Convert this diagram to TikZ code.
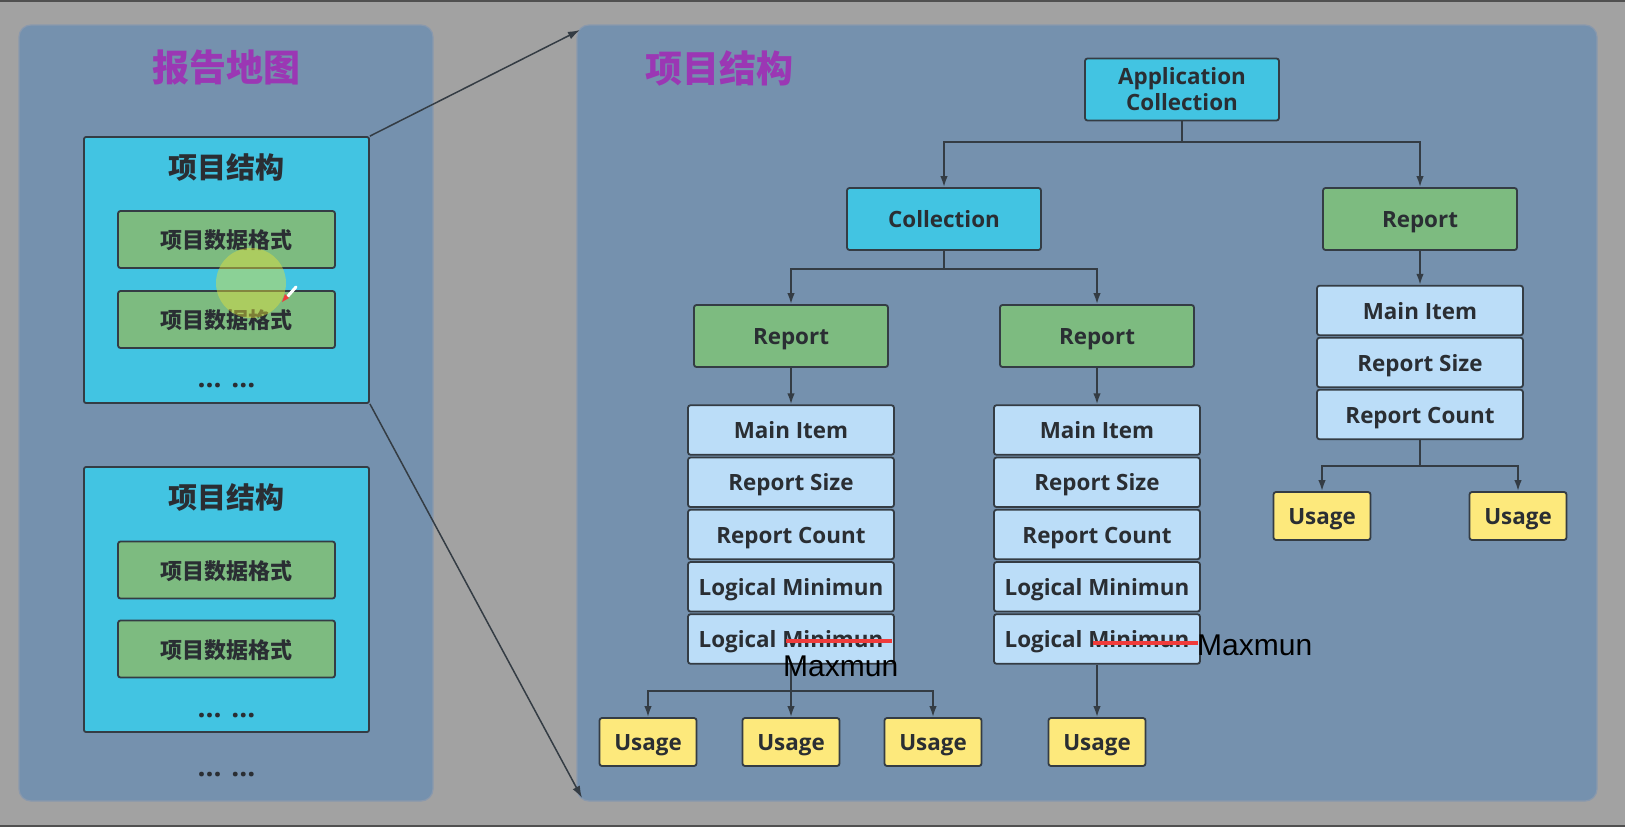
\documentclass[tikz,border=0pt]{standalone}
\usepackage{fontspec}
\setmainfont{Open Sans}
\newfontfamily\cjk{Noto Sans CJK SC}
\newfontfamily\plainsans{Liberation Sans}
\usetikzlibrary{arrows.meta}
\definecolor{bggray}{HTML}{A2A2A2}
\definecolor{edgegray}{HTML}{505050}
\definecolor{panelfill}{HTML}{7591AE}
\definecolor{panelline}{HTML}{8A99AD}
\definecolor{cyanbox}{HTML}{42C4E2}
\definecolor{greenbox}{HTML}{7DBB80}
\definecolor{lightbox}{HTML}{BBDDF8}
\definecolor{yellowbox}{HTML}{FDE97C}
\definecolor{boxline}{HTML}{343C44}
\definecolor{titlepurple}{HTML}{9B37B4}
\definecolor{txt}{HTML}{2A2E33}
\definecolor{strikered}{HTML}{F03C3C}
\definecolor{hilite}{HTML}{E4E23A}
\begin{document}
\begin{tikzpicture}[x=1pt,y=-1pt,
  panel/.style={draw=panelline, line width=1.2pt, fill=panelfill, rounded corners=12pt, inner sep=0pt},
  box/.style={draw=boxline, line width=1.8pt, rounded corners=2.5pt, inner sep=0pt, text=txt,
    font=\bfseries\fontsize{22.4}{26}\selectfont, align=center},
  oneline/.style={text height=18.5pt, text depth=1.5pt},
  cbox/.style={box, fill=cyanbox, minimum width=194pt, minimum height=62pt},
  gbox/.style={box, oneline, fill=greenbox, minimum width=194pt, minimum height=62pt},
  field/.style={box, oneline, fill=lightbox, minimum width=206pt, minimum height=49.5pt},
  ubox/.style={box, oneline, fill=yellowbox, minimum width=97pt, minimum height=48pt},
  bigcyan/.style={draw=boxline, line width=1.8pt, fill=cyanbox, rounded corners=2pt, inner sep=0pt,
    minimum width=285pt, minimum height=266pt},
  cjkgreen/.style={box, fill=greenbox, minimum width=217pt, minimum height=57pt,
    font=\cjk\bfseries\fontsize{22}{26}\selectfont, text height=19pt, text depth=1pt},
  cjkhead/.style={text=txt, font=\cjk\bfseries\fontsize{29}{32}\selectfont, inner sep=0pt},
  cjktitle/.style={text=titlepurple, font=\cjk\bfseries\fontsize{37}{40}\selectfont, inner sep=0pt},
  dots/.style={text=txt, font=\bfseries\fontsize{28}{30}\selectfont, inner sep=0pt, anchor=base},
  conn/.style={draw=boxline, line width=1.8pt},
  arr/.style={conn, -{Latex[length=11pt,width=7.5pt]}},
  farr/.style={draw=boxline, line width=1.5pt, -{Latex[length=12pt,width=8pt]}},
  note/.style={text=black, font=\plainsans\fontsize{30}{32}\selectfont, inner sep=0pt, anchor=base west}
]
\useasboundingbox (0,0) rectangle (1625,827);
\fill[bggray] (0,0) rectangle (1625,827);
\fill[edgegray] (0,0) rectangle (1625,1.5);
\fill[edgegray] (0,824.5) rectangle (1625,827);

% ---------- left panel ----------
\node[panel, minimum width=414pt, minimum height=776pt] (lp) at (226,413) {};
\node[cjktitle] (lt) at (226,68) {报告地图};

\node[bigcyan] (cy1) at (226.5,270) {};
\node[cjkhead] (h1) at (226.5,167) {项目结构};
\node[cjkgreen] (g1) at (226.5,239.5) {项目数据格式};
\node[cjkgreen] (g2) at (226.5,319.5) {项目数据格式};
\node[dots] (d1) at (226.5,387) {... ...};

\node[bigcyan, minimum height=265pt] (cy2) at (226.5,599.5) {};
\node[cjkhead] (h2) at (226.5,497) {项目结构};
\node[cjkgreen] (g3) at (226.5,570) {项目数据格式};
\node[cjkgreen] (g4) at (226.5,649) {项目数据格式};
\node[dots] (d2) at (226.5,717) {... ...};
\node[dots] (d3) at (226.5,776) {... ...};

% cursor highlight and pen
\fill[hilite, opacity=0.45] (251,283) circle (35);
\draw[white, line width=3pt, line cap=round] (296,287) -- (288,296);
\fill[strikered] (289,298) -- (285,294) -- (282,302) -- cycle;

% ---------- right panel ----------
\node[panel, minimum width=1020pt, minimum height=776pt] (rp) at (1087,413) {};
\node[cjktitle] (rt) at (719,68) {项目结构};

\node[cbox] (app) at (1182,89.5) {Application\\Collection};
\node[cbox, oneline] (coll) at (944,219) {Collection};
\node[gbox] (repR) at (1420,219) {Report};
\node[gbox] (repL) at (791,336) {Report};
\node[gbox] (repM) at (1097,336) {Report};

\foreach \cx/\nm in {791/L,1097/M}{
  \node[field] (st\nm1) at (\cx,430) {Main Item};
  \node[field] (st\nm2) at (\cx,482.3) {Report Size};
  \node[field] (st\nm3) at (\cx,534.5) {Report Count};
  \node[field] (st\nm4) at (\cx,586.8) {Logical Minimun};
  \node[field] (st\nm5) at (\cx,639) {Logical Minimun};
}
\node[field] (stR1) at (1420,310.5) {Main Item};
\node[field] (stR2) at (1420,362.5) {Report Size};
\node[field] (stR3) at (1420,414.5) {Report Count};

\node[ubox] (uR1) at (1322,516) {Usage};
\node[ubox] (uR2) at (1518,516) {Usage};
\node[ubox] (uL1) at (648,742) {Usage};
\node[ubox] (uL2) at (791,742) {Usage};
\node[ubox] (uL3) at (933,742) {Usage};
\node[ubox] (uM1) at (1097,742) {Usage};

% connectors
\coordinate (j1) at (1182,142);
\draw[conn] (app.south) -- (j1);
\draw[arr] (j1) -| (coll.north);
\draw[arr] (j1) -| (repR.north);

\coordinate (j2) at (944,269);
\draw[conn] (coll.south) -- (j2);
\draw[arr] (j2) -| (repL.north);
\draw[arr] (j2) -| (repM.north);

\draw[arr] (repL.south) -- (stL1.north);
\draw[arr] (repM.south) -- (stM1.north);
\draw[arr] (repR.south) -- (stR1.north);

\coordinate (j3) at (1420,466);
\draw[conn] (stR3.south) -- (j3);
\draw[arr] (j3) -| (uR1.north);
\draw[arr] (j3) -| (uR2.north);

\coordinate (j4) at (791,691);
\draw[arr] (stL5.south) -- (uL2.north);
\draw[arr] (j4) -| (uL1.north);
\draw[arr] (j4) -| (uL3.north);

\draw[arr] (stM5.south) -- (uM1.north);

% annotations
\draw[strikered, line width=3.5pt] (786,641) -- (892,641);
\draw[strikered, line width=3.5pt] (1093,643) -- (1198,643);
\node[note] (mx1) at (783,676) {Maxmun};
\node[note] (mx2) at (1197,655) {Maxmun};

% zoom arrows between panels
\coordinate (t1) at (580,30);
\coordinate (t2) at (582,798);
\draw[farr] (cy1.north east) -- (t1);
\draw[farr] (cy1.south east) -- (t2);
\end{tikzpicture}
\end{document}
